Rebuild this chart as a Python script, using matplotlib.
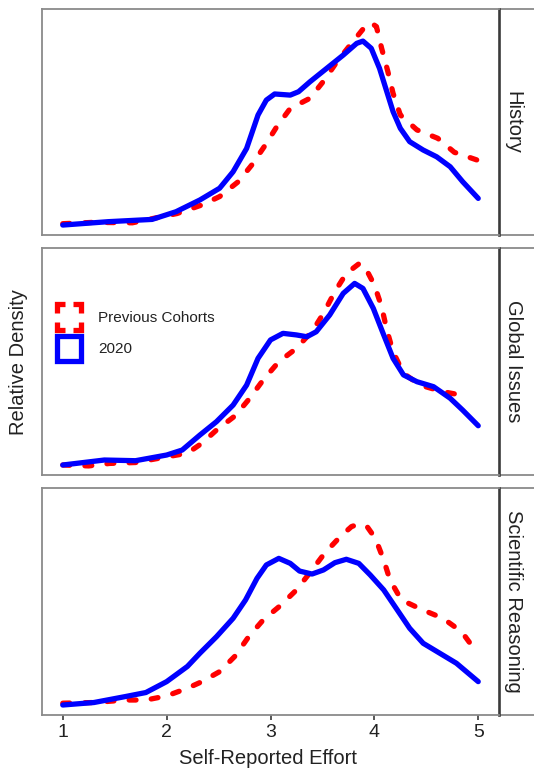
import matplotlib
matplotlib.use("Agg")
import matplotlib.pyplot as plt
from matplotlib.lines import Line2D
from matplotlib.patches import Rectangle

plt.rcParams['font.family'] = ['Liberation Sans', 'DejaVu Sans']

# ---------------- data ----------------
panels = ["History", "Global Issues", "Scientific Reasoning"]
x_ticks = [1, 2, 3, 4, 5]
legend_labels = ["Previous Cohorts", "2020"]

hist_blue_x = [1.0, 1.44, 1.86, 2.09, 2.32, 2.51, 2.64, 2.77, 2.88, 2.96, 3.04, 3.19, 3.27, 3.38,
               3.54, 3.70, 3.83, 3.89, 3.97, 4.05, 4.12, 4.18, 4.25, 4.34, 4.47, 4.60, 4.73, 4.85, 5.0]
hist_blue_y = [0.044, 0.059, 0.069, 0.103, 0.155, 0.207, 0.280, 0.383, 0.531, 0.597, 0.624, 0.619,
               0.634, 0.678, 0.737, 0.796, 0.848, 0.858, 0.826, 0.737, 0.634, 0.546, 0.472, 0.413,
               0.376, 0.346, 0.302, 0.236, 0.162]
hist_red_x = [1.0, 1.3, 1.67, 1.91, 2.1, 2.34, 2.51, 2.69, 2.82, 2.95, 3.06, 3.19, 3.38, 3.52, 3.64,
              3.78, 3.91, 3.965, 4.02, 4.07, 4.13, 4.18, 4.25, 4.41, 4.61, 4.77, 5.0]
hist_red_y = [0.05, 0.056, 0.054, 0.077, 0.095, 0.133, 0.170, 0.236, 0.310, 0.398, 0.479, 0.560,
              0.605, 0.686, 0.767, 0.848, 0.922, 0.94, 0.922, 0.826, 0.723, 0.627, 0.531, 0.465,
              0.428, 0.366, 0.33]

glob_blue_x = [1.0, 1.4, 1.7, 2.0, 2.15, 2.32, 2.48, 2.64, 2.77, 2.88, 3.0, 3.12, 3.25, 3.35, 3.44,
               3.57, 3.70, 3.81, 3.89, 3.99, 4.09, 4.18, 4.28, 4.41, 4.57, 4.73, 4.85, 5.0]
glob_blue_y = [0.044, 0.066, 0.063, 0.088, 0.11, 0.176, 0.235, 0.308, 0.396, 0.514, 0.595, 0.624,
               0.617, 0.609, 0.631, 0.705, 0.800, 0.844, 0.822, 0.734, 0.617, 0.514, 0.441, 0.411,
               0.389, 0.338, 0.286, 0.217]
glob_red_x = [1.0, 1.25, 1.45, 1.7, 2.0, 2.2, 2.34, 2.48, 2.66, 2.80, 2.93, 3.08, 3.25, 3.41, 3.51,
              3.62, 3.73, 3.85, 3.90, 4.0, 4.07, 4.12, 4.18, 4.28, 4.44, 4.66, 4.87]
glob_red_y = [0.044, 0.04, 0.051, 0.055, 0.08, 0.096, 0.140, 0.198, 0.261, 0.338, 0.419, 0.499,
              0.558, 0.639, 0.712, 0.808, 0.888, 0.93, 0.925, 0.837, 0.741, 0.639, 0.543, 0.448,
              0.396, 0.367, 0.349]

sci_blue_x = [1.0, 1.3, 1.6, 1.8, 2.0, 2.2, 2.32, 2.48, 2.64, 2.76, 2.87, 2.96, 3.08, 3.19, 3.28,
              3.40, 3.51, 3.62, 3.73, 3.85, 3.96, 4.09, 4.21, 4.34, 4.47, 4.63, 4.79, 5.0]
sci_blue_y = [0.044, 0.055, 0.081, 0.099, 0.147, 0.214, 0.272, 0.345, 0.426, 0.507, 0.602, 0.661,
              0.690, 0.668, 0.634, 0.621, 0.639, 0.671, 0.686, 0.668, 0.617, 0.551, 0.470, 0.382,
              0.316, 0.272, 0.228, 0.147]
sci_red_x = [1.0, 1.3, 1.6, 1.8, 2.0, 2.2, 2.34, 2.51, 2.66, 2.79, 2.93, 3.09, 3.25, 3.40, 3.52,
             3.67, 3.78, 3.85, 3.93, 4.01, 4.09, 4.15, 4.26, 4.45, 4.66, 4.84, 4.97]
sci_red_y = [0.052, 0.055, 0.066, 0.066, 0.084, 0.118, 0.147, 0.191, 0.260, 0.345, 0.419, 0.480,
             0.551, 0.639, 0.712, 0.785, 0.83, 0.841, 0.83, 0.778, 0.683, 0.595, 0.507, 0.466,
             0.426, 0.367, 0.286]

series = [
    (hist_red_x, hist_red_y, hist_blue_x, hist_blue_y),
    (glob_red_x, glob_red_y, glob_blue_x, glob_blue_y),
    (sci_red_x, sci_red_y, sci_blue_x, sci_blue_y),
]

# ---------------- layout ----------------
W, H = 534, 771
fig = plt.figure(figsize=(W / 100, H / 100), dpi=100)


def rect(x0, y0, x1, y1):
    return [x0 / W, 1 - y1 / H, (x1 - x0) / W, (y1 - y0) / H]


def fx(x):
    return x / W


def fy(y):
    return 1 - y / H


panel_px = [(9, 235), (248, 475), (488, 715)]
LEFT, RIGHT = 42, 499
border_col = '#8a8a8a'
dark = '#3a3a3a'
text_col = '#222222'
RED = '#ff0000'
BLUE = '#0000ff'
LW = 3.8

for i, ((top, bot), name, (rx, ry, bx, by)) in enumerate(zip(panel_px, panels, series)):
    # strip on the right (drawn first, transparent, so the panel's right edge stays visible)
    sa = fig.add_axes(rect(RIGHT, top, 560, bot))
    sa.patch.set_visible(False)
    sa.set_xticks([])
    sa.set_yticks([])
    for s in ['left', 'right']:
        sa.spines[s].set_visible(False)
    for s in ['top', 'bottom']:
        sa.spines[s].set_color(border_col)
        sa.spines[s].set_linewidth(1.3)
    fig.text(fx(513), fy((top + bot) / 2), name, rotation=-90, ha='center', va='center',
             fontsize=14.5, color=text_col)

    ax = fig.add_axes(rect(LEFT, top, RIGHT, bot))
    ax.set_xlim(0.8, 5.2)
    ax.set_ylim(0, 1)
    ax.plot(rx, ry, color=RED, lw=LW, linestyle=(0, (1.3, 2.9)),
            dash_capstyle='round', dash_joinstyle='round', zorder=3)
    ax.plot(bx, by, color=BLUE, lw=LW, solid_capstyle='round',
            solid_joinstyle='round', zorder=4)
    for s in ['top', 'bottom', 'left']:
        ax.spines[s].set_color(border_col)
        ax.spines[s].set_linewidth(1.3)
    ax.spines['right'].set_color(dark)
    ax.spines['right'].set_linewidth(1.9)
    ax.set_yticks([])
    if i == 2:
        ax.set_xticks(x_ticks)
        ax.set_xticklabels([str(t) for t in x_ticks])
        ax.tick_params(axis='x', direction='out', length=3.8, width=1.2, color=dark,
                       labelsize=14, labelcolor=text_col, pad=3)
    else:
        ax.set_xticks([])

# axis labels
fig.text(fx(268), fy(758), "Self-Reported Effort", ha='center', va='center',
         fontsize=14.5, color=text_col)
fig.text(fx(19), fy(362), "Relative Density", ha='center', va='center', rotation=90,
         fontsize=14.5, color=text_col)

# legend keys
klw = 3.8
x0, x1 = 56.5, 80.5
ry0, ry1 = 304.5, 329.5
arm = 8
corners = [
    [(x0, ry0 + arm), (x0, ry0), (x0 + arm, ry0)],
    [(x1 - arm, ry0), (x1, ry0), (x1, ry0 + arm)],
    [(x1, ry1 - arm), (x1, ry1), (x1 - arm, ry1)],
    [(x0 + arm, ry1), (x0, ry1), (x0, ry1 - arm)],
]
for c in corners:
    fig.add_artist(Line2D([fx(p[0]) for p in c], [fy(p[1]) for p in c], color=RED, lw=klw,
                          solid_joinstyle='miter', solid_capstyle='butt',
                          transform=fig.transFigure))
by0, by1 = 335.5, 360.5
fig.add_artist(Rectangle((fx(x0), fy(by1)), fx(x1) - fx(x0), fy(by0) - fy(by1),
                         fill=False, edgecolor=BLUE, lw=klw, joinstyle='miter',
                         transform=fig.transFigure))
fig.text(fx(98), fy(318), legend_labels[0], ha='left', va='center', fontsize=11, color=text_col)
fig.text(fx(98), fy(349), legend_labels[1], ha='left', va='center', fontsize=11, color=text_col)

fig.savefig("out.png", dpi=100)
